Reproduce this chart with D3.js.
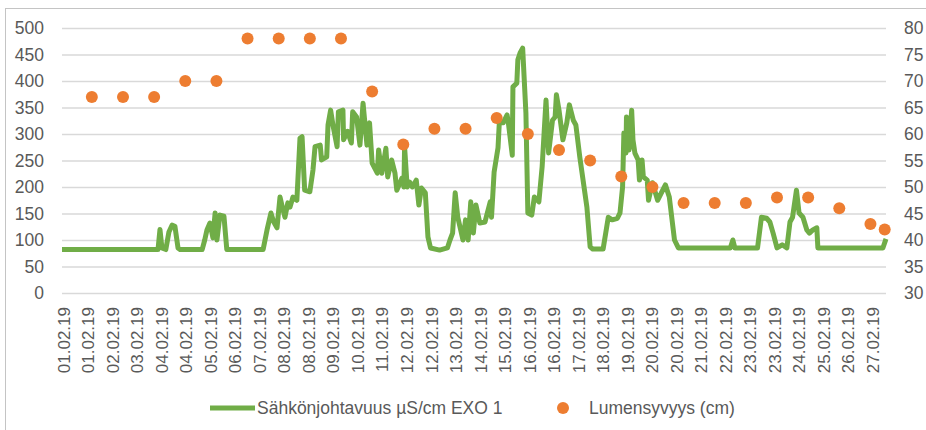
<!DOCTYPE html>
<html>
<head>
<meta charset="utf-8">
<script src="https://cdn.jsdelivr.net/npm/d3@7"></script>
<style>
body { margin: 0; background: #fff; }
text { font-family: "Liberation Sans", Arial, sans-serif; fill: #595959; }
</style>
</head>
<body>
<script>
//conductivity series, time in hours since 01.02.19 00:00
var condHours = [0, 74, 75.5, 77, 80, 82.4, 84.8, 87, 89.4, 91, 108, 110, 111.7, 114, 116.3, 118, 119.4, 121.7, 124.8, 127,
    155, 158, 161, 163, 165.7, 168, 170, 171.8, 174, 175.7, 178, 181, 183.4, 185, 187, 191, 193.4, 195, 199, 200,
    204, 205, 207, 209, 212, 213, 216.5, 217, 220, 223, 224, 227, 229.6, 232, 235, 237, 239, 243, 244, 246.5,
    249.6, 251, 254, 256.6, 258, 262, 263.5, 264, 266, 268, 270, 273, 275, 277, 280, 282, 284, 291, 297, 299,
    301, 303, 305, 309, 311, 313, 315, 317, 319, 322, 326, 330, 331, 333, 336, 337, 340, 343, 344, 347,
    347.5, 350.5, 351.3, 353, 355, 357.5, 359, 362, 364, 367.5, 370, 373, 375, 378, 380, 381, 383, 386, 389, 391,
    394, 396, 399, 404.5, 407, 409, 417, 419, 421, 424, 428, 430, 432, 433, 434.6, 435, 437, 439, 440, 441.5,
    444, 445, 447, 448, 451, 452, 455, 459, 465, 468, 472, 475, 515, 517, 518.5, 536, 539, 543, 545.5, 548,
    551, 555, 558.6, 561, 563, 566, 568, 571, 574, 576, 578.6, 581.7, 582.5, 632.6, 635];
var condValues = [82, 82, 120, 85, 82, 115, 128, 126, 85, 82, 82, 100, 119, 132, 104, 151, 100, 147, 145, 82,
    82, 119, 151, 135, 123, 181, 160, 143, 170, 162, 181, 175, 292, 295, 194, 191, 232, 276, 279, 251,
    257, 317, 345, 314, 276, 342, 345, 289, 305, 283, 342, 332, 279, 358, 279, 321, 245, 226, 270, 226,
    273, 219, 251, 226, 194, 217, 200, 276, 200, 209, 200, 213, 166, 198, 189, 106, 85, 81, 85, 100,
    113, 189, 143, 100, 138, 100, 172, 113, 166, 132, 134, 172, 143, 228, 274, 321, 321, 336, 321, 260,
    389, 396, 440, 453, 462, 340, 151, 147, 181, 172, 238, 364, 264, 326, 332, 374, 345, 289, 321, 355,
    326, 317, 257, 162, 87, 83, 83, 113, 143, 138, 141, 151, 200, 302, 264, 332, 270, 345, 289, 264,
    251, 213, 251, 219, 213, 175, 208, 175, 204, 181, 100, 85, 85, 100, 85, 85, 143, 141, 134, 113,
    85, 91, 85, 134, 143, 194, 151, 143, 119, 113, 119, 123, 85, 85, 102];

//snow depth, one reading a day
var snowHours = [23, 47, 71, 95, 119, 143, 167, 191, 215, 239, 263, 287, 311, 335, 359, 383, 407, 431, 455, 479,
    503, 527, 551, 575, 599, 623, 634];
var snowDepth = [67, 67, 67, 70, 70, 78, 78, 78, 78, 68, 58, 61, 61, 63, 60, 57, 55, 52, 50, 47,
    47, 47, 48, 48, 46, 43, 42];

//category labels on the x axis
var dateLabels = ["01.02.19", "01.02.19", "02.02.19", "03.02.19", "04.02.19", "04.02.19", "05.02.19", "06.02.19",
    "07.02.19", "08.02.19", "08.02.19", "09.02.19", "10.02.19", "11.02.19", "12.02.19", "12.02.19", "13.02.19",
    "14.02.19", "15.02.19", "16.02.19", "16.02.19", "17.02.19", "18.02.19", "19.02.19", "20.02.19", "20.02.19",
    "21.02.19", "22.02.19", "23.02.19", "23.02.19", "24.02.19", "25.02.19", "26.02.19", "27.02.19"];
var leftTicks = [0, 50, 100, 150, 200, 250, 300, 350, 400, 450, 500];
var rightTicks = [30, 35, 40, 45, 50, 55, 60, 65, 70, 75, 80];

var w = 926, h = 430;
var plotLeft = 62, plotRight = 886, plotTop = 28, plotBottom = 293;

var svg = d3.select("body")
    .append("svg")
    .attr("width", w)
    .attr("height", h);

//outer chart border
svg.append("rect")
    .attr("x", 5.5)
    .attr("y", 8.5)
    .attr("width", 940)
    .attr("height", 440)
    .attr("fill", "#fff")
    .attr("stroke", "#c4c4c4");

var x = d3.scaleLinear().domain([0, 635]).range([plotLeft, plotRight]);
var yL = d3.scaleLinear().domain([0, 500]).range([plotBottom, plotTop]);
var yR = d3.scaleLinear().domain([30, 80]).range([plotBottom, plotTop]);

//gridlines
var grid = svg.append("g")
    .attr("transform", "translate(" + plotLeft + ",0)")
    .call(d3.axisLeft(yL).tickValues(leftTicks).tickSize(-(plotRight - plotLeft)).tickFormat(""));
grid.select(".domain").remove();
grid.selectAll("line").attr("stroke", "#d9d9d9").attr("stroke-width", 1.3);

//left axis
var axisL = svg.append("g")
    .attr("transform", "translate(" + plotLeft + ",0)")
    .call(d3.axisLeft(yL).tickValues(leftTicks).tickSize(0).tickPadding(18));
axisL.select(".domain").remove();
axisL.selectAll("text").attr("font-size", 17.5).attr("font-family", null).attr("fill", "#595959");

//right axis
var axisR = svg.append("g")
    .attr("transform", "translate(" + plotRight + ",0)")
    .call(d3.axisRight(yR).tickValues(rightTicks).tickSize(0).tickPadding(18));
axisR.select(".domain").remove();
axisR.selectAll("text").attr("font-size", 17.5).attr("font-family", null).attr("fill", "#595959");

//x axis, a label every 18.9 hours
var labelHours = dateLabels.map(function(d, i){ return 0.8 + i * 18.9; });
var axisB = svg.append("g")
    .attr("transform", "translate(0," + plotBottom + ")")
    .call(d3.axisBottom(x).tickValues(labelHours).tickSize(0)
        .tickFormat(function(d, i){ return dateLabels[i]; }));
axisB.select(".domain").remove();
axisB.selectAll("text")
    .attr("font-size", 17)
    .attr("font-family", null)
    .attr("fill", "#595959")
    .attr("text-anchor", "end")
    .attr("transform", "rotate(-90)")
    .attr("x", -14)
    .attr("y", 0)
    .attr("dy", "0.36em");

//conductivity line
var line = d3.line()
    .x(function(d, i){ return x(condHours[i]); })
    .y(function(d){ return yL(d); });

svg.append("path")
    .datum(condValues)
    .attr("d", line)
    .attr("fill", "none")
    .attr("stroke", "#70ad47")
    .attr("stroke-width", 5)
    .attr("stroke-linejoin", "round");

//snow depth dots
svg.selectAll(".snow")
    .data(snowDepth)
    .enter()
    .append("circle")
    .attr("class", "snow")
    .attr("cx", function(d, i){ return x(snowHours[i]); })
    .attr("cy", function(d){ return yR(d); })
    .attr("r", 6)
    .attr("fill", "#ed7d31");

//legend
var legend = svg.append("g");
legend.append("line")
    .attr("x1", 210).attr("x2", 255)
    .attr("y1", 408).attr("y2", 408)
    .attr("stroke", "#70ad47")
    .attr("stroke-width", 5);
legend.append("text")
    .attr("x", 257).attr("y", 408).attr("dy", "0.35em")
    .attr("font-size", 17.5)
    .text("Sähkönjohtavuus µS/cm EXO 1");
legend.append("circle")
    .attr("cx", 563).attr("cy", 408)
    .attr("r", 6)
    .attr("fill", "#ed7d31");
legend.append("text")
    .attr("x", 589).attr("y", 408).attr("dy", "0.35em")
    .attr("font-size", 17.5)
    .text("Lumensyvyys (cm)");
</script>
</body>
</html>
